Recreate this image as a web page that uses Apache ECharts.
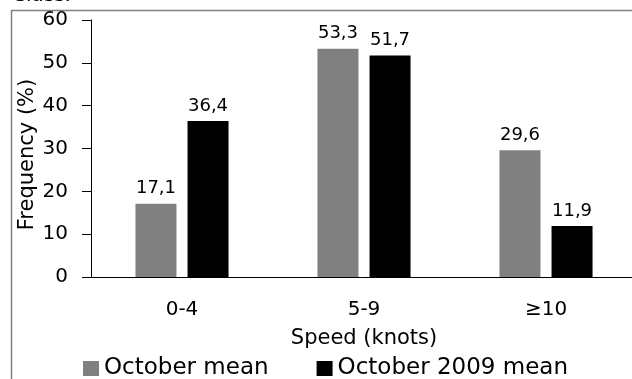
<!DOCTYPE html>
<html>
<head>
<meta charset="utf-8">
<script src="https://cdn.jsdelivr.net/npm/echarts@6/dist/echarts.min.js"></script>
<style>
  html, body { margin: 0; padding: 0; background: #fff; }
  #chart { width: 632px; height: 379px; }
</style>
</head>
<body>
<div id="chart"></div>
<script>
// speed classes and frequencies (%)
var categories = ['0-4', '5-9', '≥10'];
var seriesNames = ['October mean', 'October 2009 mean'];
var octoberMean = [17.1, 53.3, 29.6];
var october2009 = [36.4, 51.7, 11.9];
var yTicks = [0, 10, 20, 30, 40, 50, 60];

var font = 'DejaVu Sans';
var colorList = ['#808080', '#000000'];

function commaLabel(p) {
    return String(p.value).replace('.', ',');
}

var chart = echarts.init(document.getElementById('chart'), null, { renderer: 'canvas' });

var option = {
    animation: false,
    textStyle: { fontFamily: font, color: '#000' },
    // x axis runs a little past the right edge of the picture
    grid: { left: 91, width: 546, top: 20, bottom: 102, containLabel: false, outerBoundsMode: 'none' },
    graphic: [
        {   // frame of the figure
            type: 'polyline',
            shape: { points: [[11.5, 379], [11.5, 10.5], [632, 10.5]] },
            style: { stroke: '#808080', lineWidth: 1.5, fill: null }
        },
        {   // caption cut off at the top
            type: 'text',
            left: 12,
            top: -14,
            style: { text: 'Class.', font: '20px "DejaVu Sans"', fill: '#000' }
        }
    ],
    legend: {
        left: 83,
        top: 357,
        padding: 0,
        itemWidth: 16,
        itemHeight: 15,
        itemGap: 48,
        icon: 'rect',
        textStyle: { fontFamily: font, fontSize: 23, color: '#000' },
        data: seriesNames
    },
    xAxis: {
        type: 'category',
        data: categories,
        name: 'Speed (knots)',
        nameLocation: 'middle',
        nameGap: 51,
        nameMoveOverlap: false,
        nameTextStyle: { fontFamily: font, fontSize: 21, color: '#000' },
        axisLine: { lineStyle: { color: '#000', width: 1 } },
        axisTick: { length: 8, lineStyle: { color: '#555' } },
        axisLabel: { margin: 23, fontFamily: font, fontSize: 20, color: '#000' }
    },
    yAxis: {
        type: 'value',
        min: yTicks[0],
        max: yTicks[yTicks.length - 1],
        interval: 10,
        name: 'Frequency (%)',
        nameLocation: 'middle',
        nameGap: 53,
        nameRotate: 90,
        nameMoveOverlap: false,
        nameTextStyle: { fontFamily: font, fontSize: 21, color: '#000', padding: [0, 12, 0, 0] },
        axisLine: { show: true, lineStyle: { color: '#000', width: 1 } },
        axisTick: { show: true, length: 9, lineStyle: { color: '#000' } },
        axisLabel: { margin: 23, fontFamily: font, fontSize: 20, color: '#000' },
        splitLine: { show: false }
    },
    series: [
        {
            name: seriesNames[0],
            type: 'bar',
            data: octoberMean,
            barWidth: 41,
            barGap: '27%',
            itemStyle: { color: colorList[0] },
            label: { show: true, position: 'top', distance: 6, fontFamily: font, fontSize: 18, color: '#000', formatter: commaLabel }
        },
        {
            name: seriesNames[1],
            type: 'bar',
            data: october2009,
            barWidth: 41,
            barGap: '27%',
            itemStyle: { color: colorList[1] },
            label: { show: true, position: 'top', distance: 6, fontFamily: font, fontSize: 18, color: '#000', formatter: commaLabel }
        }
    ]
};

chart.setOption(option, true);
</script>
</body>
</html>
